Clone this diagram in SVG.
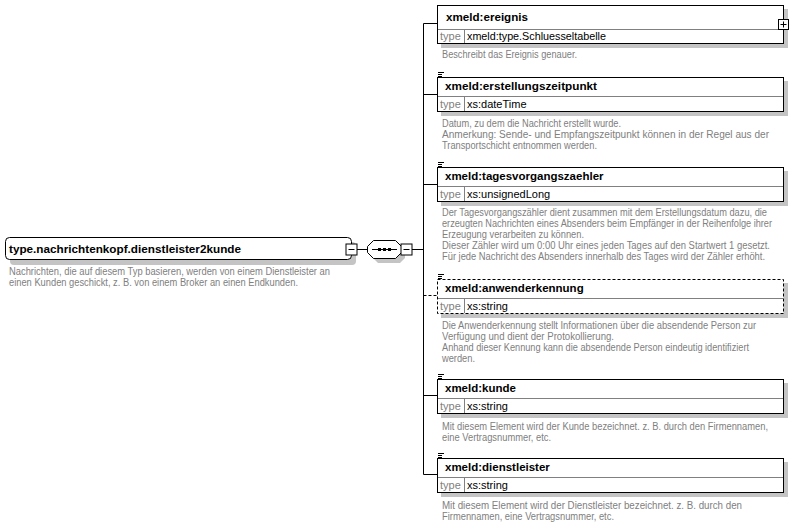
<svg xmlns="http://www.w3.org/2000/svg" width="803" height="527" viewBox="0 0 803 527">
<style>
.bg{fill:#fff}
.sh{fill:#c4c4c4}
.box{fill:#fff;stroke:#000;stroke-width:1}
.dbox{fill:#fff;stroke:#000;stroke-width:1;stroke-dasharray:3,2}
.div{stroke:#808080;stroke-width:1;fill:none}
.ln{stroke:#000;stroke-width:1;fill:none}
.dln{stroke:#000;stroke-width:1;fill:none;stroke-dasharray:3,2}
.t{font-family:"Liberation Sans",Arial,sans-serif;font-weight:bold;font-size:11.5px;fill:#000}
.tl{font-family:"Liberation Sans",Arial,sans-serif;font-size:11px;fill:#808080}
.tv{font-family:"Liberation Sans",Arial,sans-serif;font-size:11px;fill:#000}
.d{font-family:"Liberation Sans",Arial,sans-serif;font-size:10px;fill:#808080}
.ic{stroke:#000;stroke-width:1}
</style>
<defs>
<g id="minus"><rect x="-5.5" y="-5.5" width="11" height="11" fill="#fff" stroke="#000"/><line x1="-3" y1="0" x2="3" y2="0" stroke="#000"/></g>
<g id="plus"><rect x="-5" y="-5" width="10" height="10" fill="#fff" stroke="#000"/><line x1="-3" y1="0" x2="3" y2="0" stroke="#000"/><line x1="0" y1="-3" x2="0" y2="3" stroke="#000"/></g>
<g id="doc"><line x1="0" y1="0.5" x2="6" y2="0.5" class="ic"/><line x1="0" y1="2.5" x2="4" y2="2.5" class="ic"/><line x1="0" y1="4.5" x2="4" y2="4.5" class="ic"/></g>
</defs>
<rect class="bg" x="0" y="0" width="803" height="527"/>

<g id="connectors">
<line class="ln" x1="357" y1="249.5" x2="367" y2="249.5"/>
<line class="ln" x1="412" y1="249.5" x2="423.5" y2="249.5"/>
<line class="ln" x1="423.5" y1="23.5" x2="423.5" y2="474.5"/>
<line class="ln" x1="423.5" y1="23.5" x2="437.5" y2="23.5"/>
<line class="ln" x1="423.5" y1="94.5" x2="437.5" y2="94.5"/>
<line class="ln" x1="423.5" y1="184.5" x2="437.5" y2="184.5"/>
<line class="dln" x1="423.5" y1="295.5" x2="437.5" y2="295.5"/>
<line class="ln" x1="423.5" y1="395.5" x2="437.5" y2="395.5"/>
<line class="ln" x1="423.5" y1="474.5" x2="437.5" y2="474.5"/>
</g>

<g id="type_node">
<rect class="sh" x="10" y="242" width="346" height="23" rx="4"/>
<rect class="box" x="5.5" y="237.5" width="346" height="22" rx="4"/>
<text class="t" x="9" y="253" textLength="232" lengthAdjust="spacingAndGlyphs">type.nachrichtenkopf.dienstleister2kunde</text>
<use href="#minus" x="351.5" y="249.5"/>
<text class="d" x="9" y="275" textLength="321" lengthAdjust="spacingAndGlyphs">Nachrichten, die auf diesem Typ basieren, werden von einem Dienstleister an</text>
<text class="d" x="9" y="286" textLength="289" lengthAdjust="spacingAndGlyphs">einen Kunden geschickt, z. B. von einem Broker an einen Endkunden.</text>
</g>

<g id="sequence">
<path class="sh" d="M378 245 H400 L405 250 V258 L400 263 H378 L373 258 V250 Z"/>
<path class="box" d="M373.5 240.5 H395.5 L401.5 246.5 V252.5 L395.5 258.5 H373.5 L367.5 252.5 V246.5 Z"/>
<line class="ln" x1="372" y1="249.5" x2="397" y2="249.5"/>
<rect x="378" y="248" width="3" height="3" fill="#000"/>
<rect x="383" y="248" width="3" height="3" fill="#000"/>
<rect x="388" y="248" width="3" height="3" fill="#000"/>
<use href="#minus" x="406.5" y="249.5"/>
</g>

<g id="ereignis">
<rect class="sh" x="441" y="9" width="347" height="39"/>
<rect class="box" x="437.5" y="5.5" width="346" height="38"/>
<line class="div" x1="438" y1="29.5" x2="783" y2="29.5"/>
<line class="div" x1="464.5" y1="30" x2="464.5" y2="43"/>
<text class="t" x="446" y="21" textLength="82" lengthAdjust="spacingAndGlyphs">xmeld:ereignis</text>
<text class="tl" x="440" y="40">type</text>
<text class="tv" x="467" y="40" textLength="139" lengthAdjust="spacingAndGlyphs">xmeld:type.Schluesseltabelle</text>
<use href="#plus" x="783.5" y="24.5"/>
<text class="d" x="442" y="58" textLength="135" lengthAdjust="spacingAndGlyphs">Beschreibt das Ereignis genauer.</text>
</g>

<g id="erstellungszeitpunkt">
<rect class="sh" x="441" y="81" width="347" height="35"/>
<rect class="box" x="437.5" y="77.5" width="346" height="34"/>
<line class="div" x1="438" y1="96.5" x2="783" y2="96.5"/>
<line class="div" x1="464.5" y1="97" x2="464.5" y2="111"/>
<use href="#doc" x="438" y="72"/>
<text class="t" x="445" y="90" textLength="152" lengthAdjust="spacingAndGlyphs">xmeld:erstellungszeitpunkt</text>
<text class="tl" x="440" y="108">type</text>
<text class="tv" x="467" y="108">xs:dateTime</text>
<text class="d" x="442" y="127" textLength="179" lengthAdjust="spacingAndGlyphs">Datum, zu dem die Nachricht erstellt wurde.</text>
<text class="d" x="442" y="138" textLength="327" lengthAdjust="spacingAndGlyphs">Anmerkung: Sende- und Empfangszeitpunkt können in der Regel aus der</text>
<text class="d" x="442" y="149" textLength="155" lengthAdjust="spacingAndGlyphs">Transportschicht entnommen werden.</text>
</g>

<g id="tagesvorgangszaehler">
<rect class="sh" x="441" y="171" width="347" height="35"/>
<rect class="box" x="437.5" y="167.5" width="346" height="34"/>
<line class="div" x1="438" y1="186.5" x2="783" y2="186.5"/>
<line class="div" x1="464.5" y1="187" x2="464.5" y2="201"/>
<use href="#doc" x="438" y="162"/>
<text class="t" x="445" y="180">xmeld:tagesvorgangszaehler</text>
<text class="tl" x="440" y="198">type</text>
<text class="tv" x="467" y="198">xs:unsignedLong</text>
<text class="d" x="442" y="216" textLength="325" lengthAdjust="spacingAndGlyphs">Der Tagesvorgangszähler dient zusammen mit dem Erstellungsdatum dazu, die</text>
<text class="d" x="442" y="227" textLength="330" lengthAdjust="spacingAndGlyphs">erzeugten Nachrichten eines Absenders beim Empfänger in der Reihenfolge ihrer</text>
<text class="d" x="442" y="238" textLength="142" lengthAdjust="spacingAndGlyphs">Erzeugung verarbeiten zu können.</text>
<text class="d" x="442" y="249" textLength="328" lengthAdjust="spacingAndGlyphs">Dieser Zähler wird um 0:00 Uhr eines jeden Tages auf den Startwert 1 gesetzt.</text>
<text class="d" x="442" y="260" textLength="323" lengthAdjust="spacingAndGlyphs">Für jede Nachricht des Absenders innerhalb des Tages wird der Zähler erhöht.</text>
</g>

<g id="anwenderkennung">
<rect class="sh" x="441" y="283" width="347" height="35"/>
<rect class="dbox" x="437.5" y="279.5" width="346" height="34"/>
<line class="div" x1="438" y1="298.5" x2="783" y2="298.5"/>
<line class="div" x1="464.5" y1="299" x2="464.5" y2="313"/>
<use href="#doc" x="438" y="274"/>
<text class="t" x="445" y="292">xmeld:anwenderkennung</text>
<text class="tl" x="440" y="310">type</text>
<text class="tv" x="467" y="310">xs:string</text>
<text class="d" x="442" y="329" textLength="314" lengthAdjust="spacingAndGlyphs">Die Anwenderkennung stellt Informationen über die absendende Person zur</text>
<text class="d" x="442" y="340" textLength="172" lengthAdjust="spacingAndGlyphs">Verfügung und dient der Protokollierung.</text>
<text class="d" x="442" y="351" textLength="307" lengthAdjust="spacingAndGlyphs">Anhand dieser Kennung kann die absendende Person eindeutig identifiziert</text>
<text class="d" x="442" y="362" textLength="33" lengthAdjust="spacingAndGlyphs">werden.</text>
</g>

<g id="kunde">
<rect class="sh" x="441" y="383" width="347" height="35"/>
<rect class="box" x="437.5" y="379.5" width="346" height="34"/>
<line class="div" x1="438" y1="398.5" x2="783" y2="398.5"/>
<line class="div" x1="464.5" y1="399" x2="464.5" y2="413"/>
<use href="#doc" x="438" y="374"/>
<text class="t" x="445" y="392">xmeld:kunde</text>
<text class="tl" x="440" y="410">type</text>
<text class="tv" x="467" y="410">xs:string</text>
<text class="d" x="442" y="430" textLength="326" lengthAdjust="spacingAndGlyphs">Mit diesem Element wird der Kunde bezeichnet. z. B. durch den Firmennamen,</text>
<text class="d" x="442" y="441" textLength="109" lengthAdjust="spacingAndGlyphs">eine Vertragsnummer, etc.</text>
</g>

<g id="dienstleister">
<rect class="sh" x="441" y="462" width="347" height="35"/>
<rect class="box" x="437.5" y="458.5" width="346" height="34"/>
<line class="div" x1="438" y1="477.5" x2="783" y2="477.5"/>
<line class="div" x1="464.5" y1="478" x2="464.5" y2="492"/>
<use href="#doc" x="438" y="453"/>
<text class="t" x="445" y="471">xmeld:dienstleister</text>
<text class="tl" x="440" y="489">type</text>
<text class="tv" x="467" y="489">xs:string</text>
<text class="d" x="442" y="509" textLength="300" lengthAdjust="spacingAndGlyphs">Mit diesem Element wird der Dienstleister bezeichnet. z. B. durch den</text>
<text class="d" x="442" y="520" textLength="172" lengthAdjust="spacingAndGlyphs">Firmennamen, eine Vertragsnummer, etc.</text>
</g>
</svg>
